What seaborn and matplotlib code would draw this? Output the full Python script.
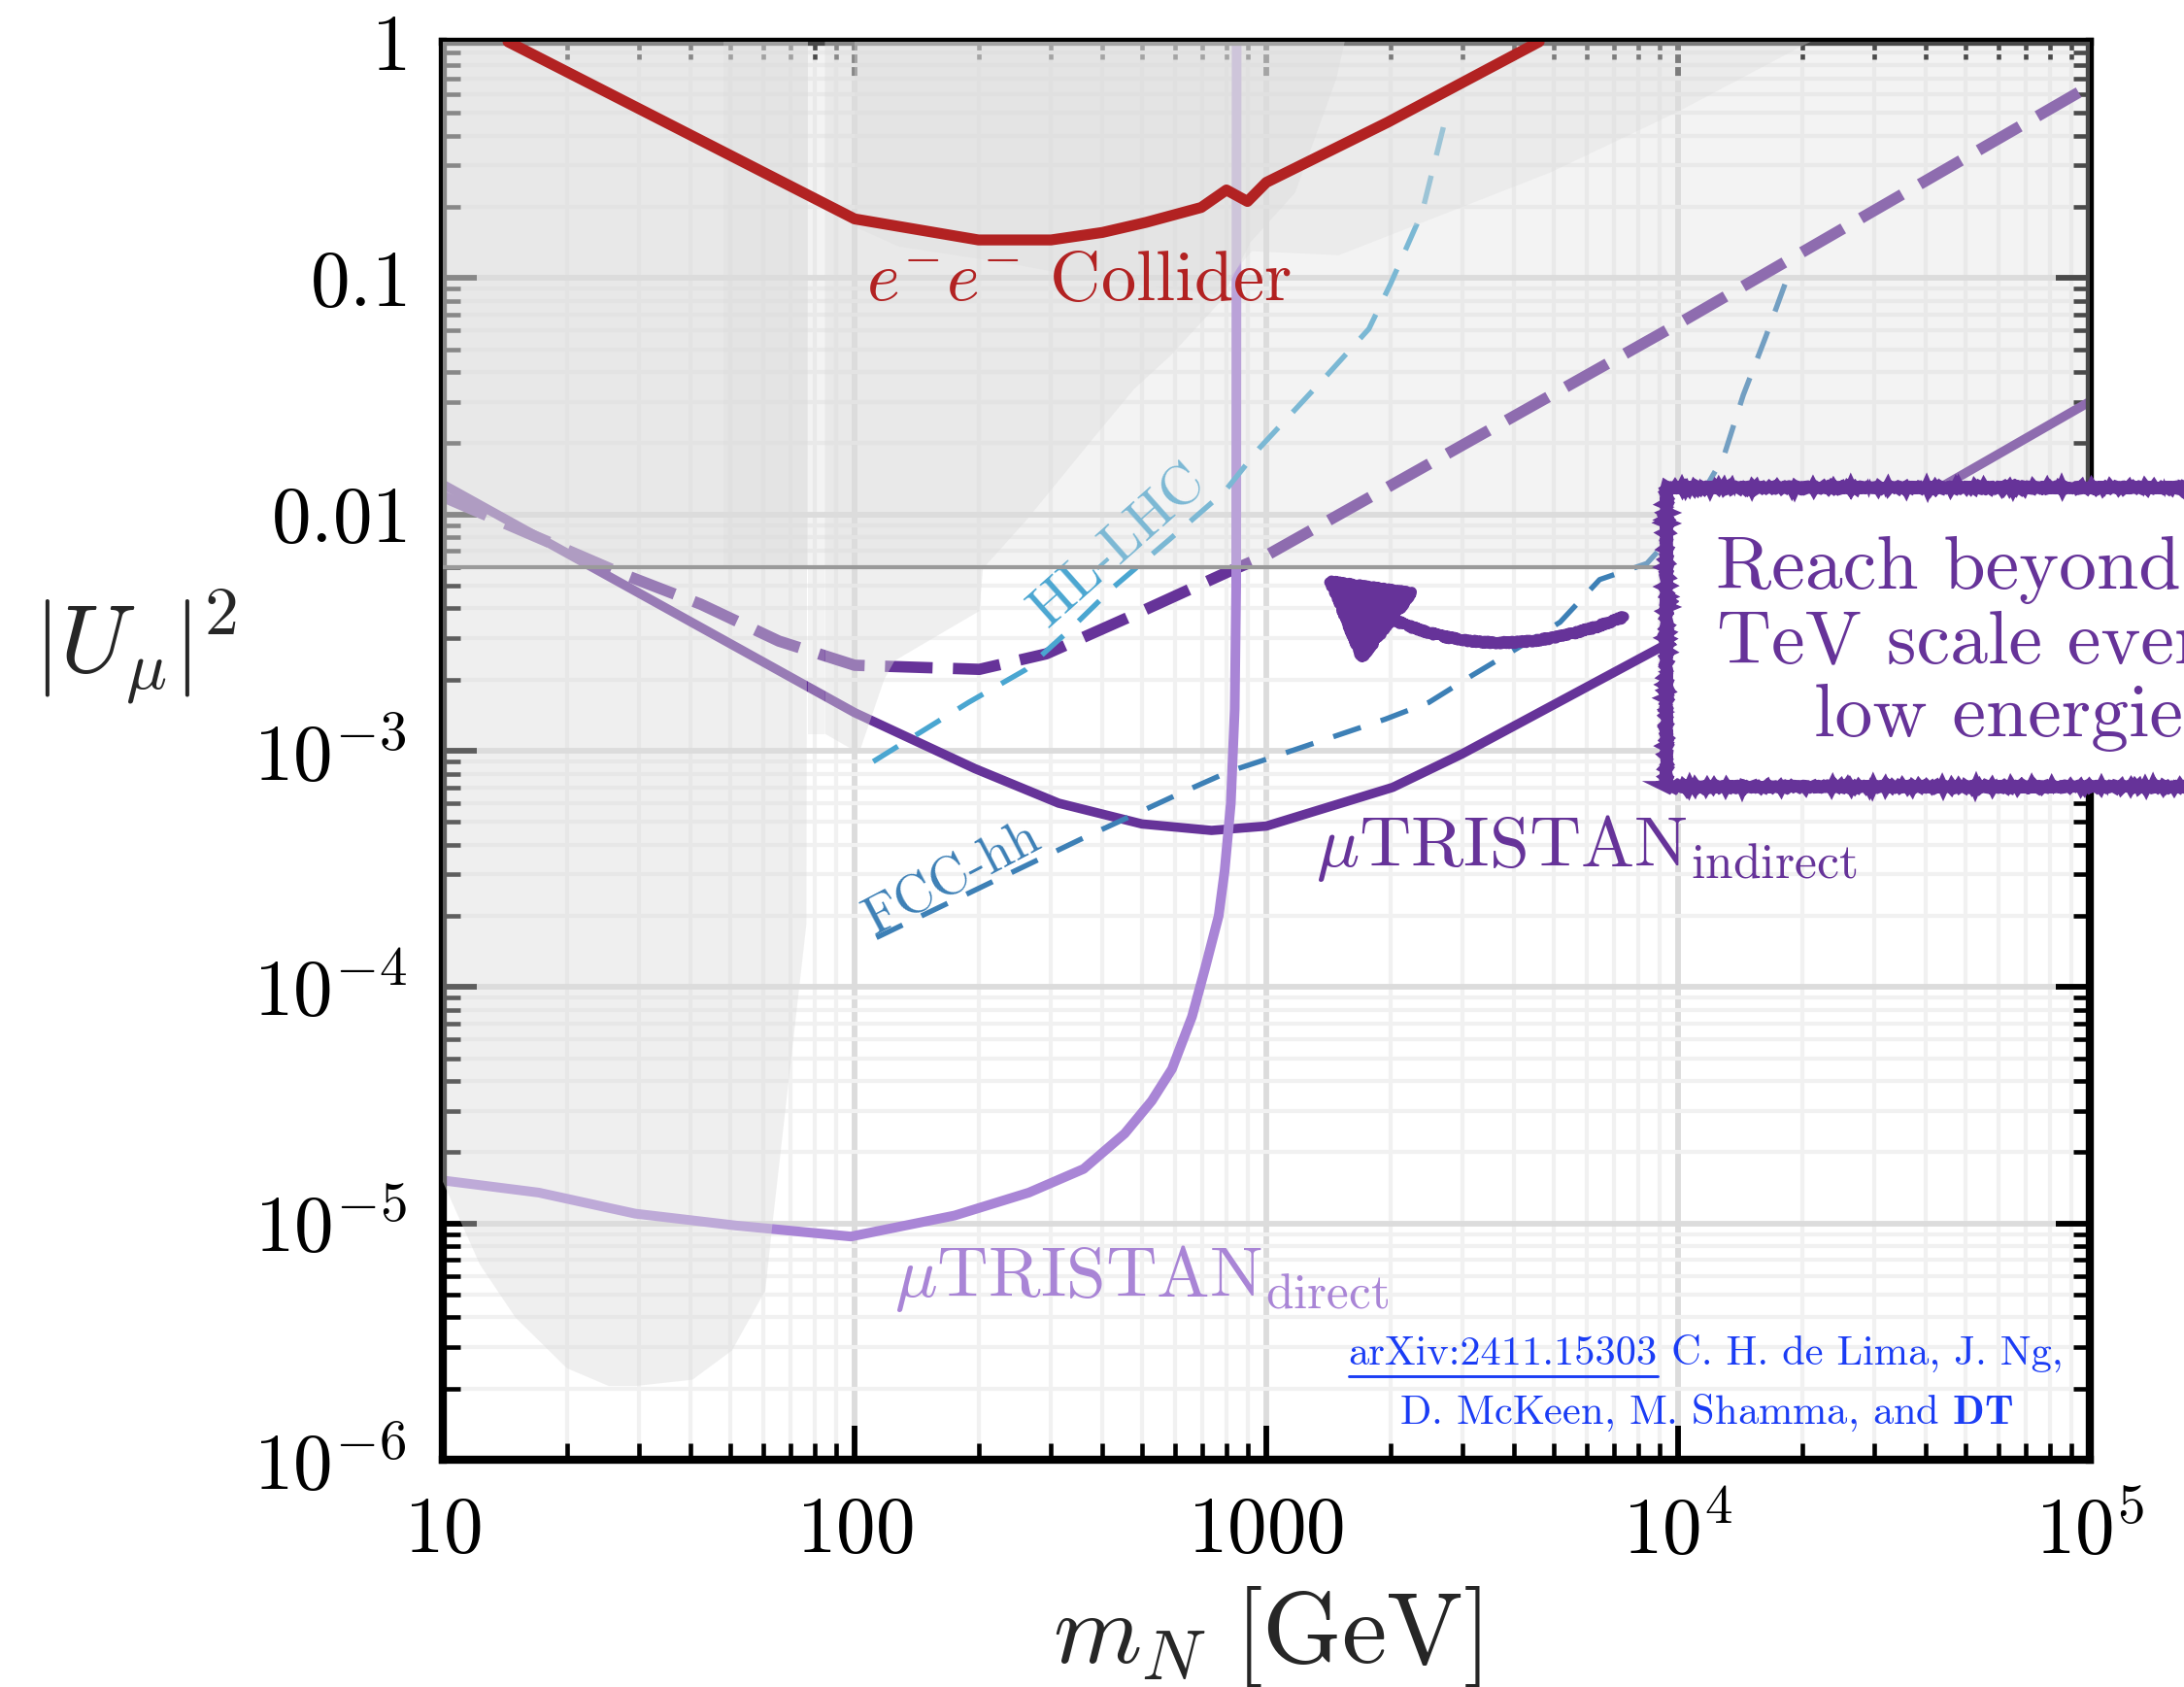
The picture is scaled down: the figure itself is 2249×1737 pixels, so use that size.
import matplotlib
matplotlib.use("Agg")
import matplotlib.pyplot as plt
from matplotlib.patches import Rectangle, FancyArrowPatch
from matplotlib.lines import Line2D
import seaborn as sns

# ---- curves (m_N in GeV, |U_mu|^2) ----
ee_x = [14.4, 100, 200, 300, 400, 510, 695, 800, 900, 1000, 1970, 4600]
ee_y = [1.0, 0.178, 0.145, 0.145, 0.156, 0.172, 0.199, 0.236, 0.211, 0.254, 0.456, 1.0]

indirect_x = [10, 100, 196, 313, 499, 736, 1000, 2028, 2990, 1e4, 1e5]
indirect_y = [0.0134, 1.45e-3, 8.4e-4, 6.0e-4, 4.9e-4, 4.6e-4, 4.8e-4, 7.0e-4, 9.7e-4, 3.0e-3, 0.030]

indirect_dash_x = [10, 27.3, 42.3, 65.5, 100, 201, 292, 466, 819, 1000, 1e4, 1e5]
indirect_dash_y = [0.0119, 5.6e-3, 4.17e-3, 2.91e-3, 2.3e-3, 2.21e-3, 2.57e-3, 3.69e-3, 5.78e-3, 6.7e-3, 0.064, 0.65]

direct_x = [10, 17.1, 29.3, 51.4, 98, 175, 265, 360, 453, 527, 590, 660, 710, 766, 792, 820, 838, 845, 847]
direct_y = [1.52e-5, 1.35e-5, 1.1e-5, 9.8e-6, 8.8e-6, 1.08e-5, 1.35e-5, 1.7e-5, 2.4e-5, 3.3e-5,
            4.5e-5, 7.5e-5, 1.2e-4, 2.0e-4, 3.1e-4, 6e-4, 1.5e-3, 5e-3, 1.2]

hl_x = [111, 189, 260, 330, 424, 580, 792, 960, 1400, 1775, 2000, 2390, 2730]
hl_y = [9.0e-4, 1.6e-3, 2.2e-3, 3.2e-3, 4.9e-3, 7.8e-3, 0.0125, 0.019, 0.0386, 0.061, 0.094, 0.19, 0.48]

fcc_x = [113, 352, 617, 817, 1000, 1945, 2480, 3170, 4050, 5170, 6450, 8400, 10500, 12900, 14400, 16300, 18600]
fcc_y = [1.62e-4, 4.2e-4, 6.6e-4, 8.2e-4, 9.2e-4, 1.36e-3, 1.6e-3, 2.09e-3, 2.7e-3, 3.5e-3,
         5.3e-3, 6.2e-3, 9.5e-3, 0.0175, 0.032, 0.056, 0.105]

# ---- excluded regions (grey) ----
ewpd_bound = 0.006
ewpd_x = [10, 1e5, 1e5, 10]
ewpd_y = [ewpd_bound, ewpd_bound, 1.0, 1.0]

delphi_x = [10, 10, 12.3, 15, 20, 25.3, 29.3, 40.4, 50.4, 60.7, 63, 76.4, 77]
delphi_y = [1.0, 1.5e-5, 6.7e-6, 4e-6, 2.44e-6, 2.05e-6, 2.05e-6, 2.18e-6, 2.9e-6, 5.2e-6, 9.5e-6, 1.85e-4, 1.0]

strip_x = [77, 84.7, 84.7, 77]
strip_y = [1.17e-3, 1.17e-3, ewpd_bound, ewpd_bound]

lhc_x = [84.7, 84.7, 98, 103, 118, 125, 201, 205, 262, 385, 478, 584, 771, 916, 1175, 1480, 1550]
lhc_y = [1.0, 1.18e-3, 1.02e-3, 1.0e-3, 2.0e-3, 2.4e-3, 3.9e-3, 5.9e-3, 9.5e-3, 0.0216, 0.034,
         0.0468, 0.079, 0.142, 0.23, 0.7, 1.0]

lep_top_x = [48, 48, 77, 77]
lep_top_y = [1.0, ewpd_bound, ewpd_bound, 1.0]

unit_x = [100, 100, 128, 239, 370, 750, 922, 1500, 4900, 1e4, 1.98e4, 2.1e4]
unit_y = [1.0, 0.165, 0.136, 0.115, 0.10, 0.085, 0.13, 0.125, 0.28, 0.506, 0.95, 1.0]

regions = [
    (delphi_x, delphi_y, 0.43),
    (ewpd_x, ewpd_y, 0.34),
    (strip_x, strip_y, 0.34),
    (lhc_x, lhc_y, 0.43),
    (lep_top_x, lep_top_y, 0.3),
    (unit_x, unit_y, 0.34),
]

# ---- axis ticks ----
x_ticks = [10, 100, 1000, 1e4, 1e5]
x_labels = [r"$10$", r"$100$", r"$1000$", r"$10^{4}$", r"$10^{5}$"]
y_ticks = [1e-6, 1e-5, 1e-4, 1e-3, 1e-2, 1e-1, 1]
y_labels = [r"$10^{-6}$", r"$10^{-5}$", r"$10^{-4}$", r"$10^{-3}$", r"$0.01$", r"$0.1$", r"$1$"]

purple = "#663399"
direct_col = "#a985d6"
red = "#b22222"
hl_col = "#4aa6d1"
fcc_col = "#3d80b6"
shade = "#dcdcdc"
credit_col = "#1a3cf5"

sns.set_style("ticks")
plt.rcParams.update({
    "font.family": "cmr10",
    "mathtext.fontset": "cm",
    "axes.formatter.use_mathtext": True,
    "axes.unicode_minus": False,
})

fig = plt.figure(figsize=(2249 / 300, 1737 / 300), dpi=300)
ax = fig.add_axes([0.20276, 0.13472, 0.75411, 0.84053])
ax.set_xscale("log")
ax.set_yscale("log")
ax.set_xlim(10, 1e5)
ax.set_ylim(1e-6, 1)
ax.set_axisbelow(True)

ax.grid(which="major", color="#dcdcdc", lw=1.4)
ax.grid(which="minor", color="#f1f1f1", lw=1.0)

# curves below the grey overlays
sns.lineplot(x=indirect_x, y=indirect_y, ax=ax, color=purple, lw=2.3,
             sort=False, estimator=None, zorder=2)
sns.lineplot(x=indirect_dash_x, y=indirect_dash_y, ax=ax, color=purple, lw=2.8,
             linestyle=(0, (4.2, 1.8)), sort=False, estimator=None, zorder=2)
sns.lineplot(x=direct_x, y=direct_y, ax=ax, color=direct_col, lw=2.4,
             sort=False, estimator=None, zorder=2)
sns.lineplot(x=hl_x, y=hl_y, ax=ax, color=hl_col, lw=1.3,
             linestyle=(0, (5.5, 4.0)), sort=False, estimator=None, zorder=2)
sns.lineplot(x=fcc_x, y=fcc_y, ax=ax, color=fcc_col, lw=1.3,
             linestyle=(0, (5.5, 4.0)), sort=False, estimator=None, zorder=2)

ax.text(436, 7.3e-3, "HL-LHC", rotation=41.7, rotation_mode="anchor", ha="center",
        va="center", fontsize=14, color=hl_col, zorder=2)
ax.text(173, 2.86e-4, "FCC-hh", rotation=27.7, rotation_mode="anchor", ha="center",
        va="center", fontsize=13.4, color=fcc_col, zorder=2)

for rx, ry, a in regions:
    ax.fill(rx, ry, color=shade, alpha=a, lw=0, zorder=3)

ax.axhline(ewpd_bound, color="#9a9a9a", lw=1.0, zorder=3.5)

sns.lineplot(x=ee_x, y=ee_y, ax=ax, color=red, lw=2.7,
             sort=False, estimator=None, zorder=4)

# labels on the plot
ax.text(107, 0.081, r"$e^{-}e^{-}$ Collider", color=red, fontsize=17.4,
        ha="left", va="baseline", zorder=5)
ax.text(1320, 3.24e-4, r"$\mu\mathrm{TRISTAN}_{\mathrm{indirect}}$", color=purple,
        fontsize=17.7, ha="left", va="baseline", zorder=5)
ax.text(125, 4.9e-6, r"$\mu\mathrm{TRISTAN}_{\mathrm{direct}}$", color=direct_col,
        fontsize=17.5, ha="left", va="baseline", zorder=5)

arx = ax.text(8910, 2.52e-6, "arXiv:2411.15303", color=credit_col, fontsize=10.2,
              ha="right", va="baseline", zorder=5)
ax.text(8910, 2.52e-6, " C. H. de Lima, J. Ng,", color=credit_col, fontsize=10.2,
        ha="left", va="baseline", zorder=5)
ax.text(11700, 1.42e-6, r"D. McKeen, M. Shamma, and $\mathbf{DT}$",
        color=credit_col, fontsize=10.2, ha="center", va="baseline", zorder=5)

# hand drawn call-out
for k, (sc, rnd) in enumerate([(1.2, 3), (1.6, 5)]):
    box = Rectangle((0.763, 0.5337), 0.32, 0.1773, transform=fig.transFigure,
                    facecolor="white" if k == 0 else "none", edgecolor=purple,
                    lw=2.8 if k == 0 else 1.3, zorder=10 + k, clip_on=False)
    box.set_sketch_params(scale=sc, length=5, randomness=rnd)
    ax.add_patch(box)
ax.text(0.9217, 0.6185, "Reach beyond the\nTeV scale even at\nlow energies",
        transform=fig.transFigure, ha="center", va="center", multialignment="center",
        fontsize=18.7, color=purple, linespacing=1.12, zorder=12, clip_on=False)

arrow = FancyArrowPatch(posA=(7700, 3.8e-3), posB=(1320, 5.8e-3),
                        connectionstyle="arc3,rad=-0.3",
                        arrowstyle="-|>,head_length=0.7,head_width=0.4",
                        mutation_scale=25, lw=2.6, color=purple, zorder=9)
arrow.set_sketch_params(scale=1.5, length=4, randomness=3)
ax.add_patch(arrow)

# axes styling
ax.set_xticks(x_ticks, x_labels)
ax.set_yticks(y_ticks, y_labels)
ax.tick_params(which="both", direction="in", top=True, right=True, colors="black")
ax.tick_params(which="major", length=8.5, width=1.4, labelsize=19.5, pad=9)
ax.tick_params(which="minor", length=4.2, width=1.1)
for s in ax.spines.values():
    s.set_linewidth(2.0)
    s.set_color("black")

ax.set_xlabel(r"$m_N\ [\mathrm{GeV}]$", fontsize=25, va="top")
ax.xaxis.set_label_coords(0.5, -0.088)
ax.set_ylabel(r"$|U_\mu|^2$", fontsize=24, rotation=0, ha="center", va="center")
ax.yaxis.set_label_coords(-0.187, 0.573)

# underline for the arXiv number
fig.canvas.draw()
bb = arx.get_window_extent()
inv = fig.transFigure.inverted()
(ux0, uy), (ux1, _) = inv.transform([(bb.x0, bb.y0 - 4), (bb.x1, bb.y0)])
fig.add_artist(Line2D([ux0, ux1], [uy, uy], transform=fig.transFigure,
                      color=credit_col, lw=0.7, zorder=5))

fig.savefig("out.png", dpi=300)
